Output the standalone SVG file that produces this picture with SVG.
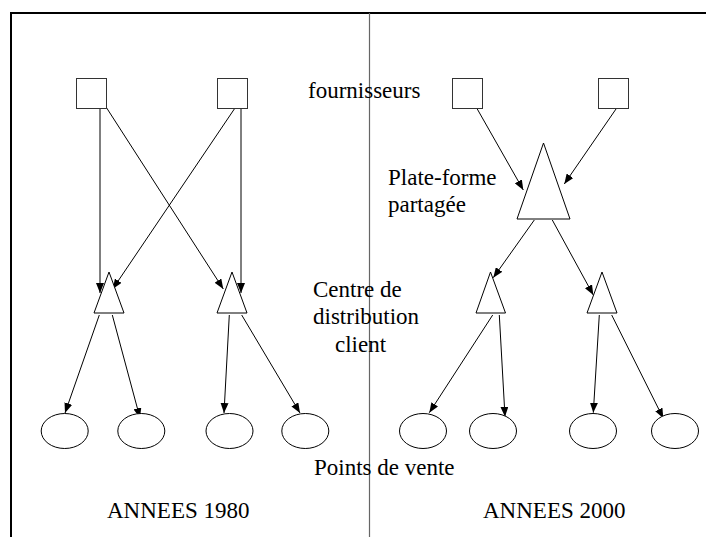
<svg xmlns="http://www.w3.org/2000/svg" width="706" height="537" viewBox="0 0 706 537">
<style>
.t{font-family:"Liberation Serif","Times New Roman",serif;font-size:23px;fill:#000}
.sq{fill:#fff;stroke:#333;stroke-width:1}
.tr{fill:#fff;stroke:#000;stroke-width:1}
.el{fill:#fff;stroke:#000;stroke-width:1}
.c{stroke:#000;stroke-width:1;fill:none;marker-end:url(#ah)}
</style>
<defs>
<marker id="ah" markerUnits="userSpaceOnUse" markerWidth="10" markerHeight="8" refX="10" refY="4" orient="auto">
<path d="M0,0 L10,4 L0,8 z" fill="#000"/>
</marker>
</defs>
<rect width="706" height="537" fill="#fff"/>
<g id="frame">
<polyline points="11,537 11,13 706,13" fill="none" stroke="#000" stroke-width="2"/>
<line x1="369.5" y1="13" x2="369.5" y2="537" stroke="#666" stroke-width="1.2"/>
</g>
<g id="connectors">
<line class="c" x1="100" y1="108" x2="100" y2="293"/>
<line class="c" x1="106.7" y1="108" x2="223.3" y2="289"/>
<line class="c" x1="235" y1="108" x2="112.7" y2="289"/>
<line class="c" x1="241" y1="108" x2="241" y2="293"/>
<line class="c" x1="99.3" y1="315" x2="65" y2="413"/>
<line class="c" x1="112.3" y1="315" x2="140" y2="418"/>
<line class="c" x1="229.3" y1="315" x2="224" y2="413"/>
<line class="c" x1="241.7" y1="315" x2="300" y2="413"/>
<line class="c" x1="476.7" y1="108" x2="523.3" y2="190"/>
<line class="c" x1="616.7" y1="108" x2="564.3" y2="184"/>
<line class="c" x1="534.3" y1="220" x2="493.3" y2="277.7"/>
<line class="c" x1="552.3" y1="220" x2="593.3" y2="295"/>
<line class="c" x1="492.7" y1="315" x2="429.3" y2="412.7"/>
<line class="c" x1="499.3" y1="315" x2="505" y2="416.7"/>
<line class="c" x1="599.3" y1="315" x2="593.3" y2="412.7"/>
<line class="c" x1="611.7" y1="315" x2="663.3" y2="418.3"/>
</g>
<g id="f1"><rect class="sq" x="76.5" y="78.5" width="30" height="30"/></g>
<g id="f2"><rect class="sq" x="217.5" y="78.5" width="30" height="30"/></g>
<g id="f3"><rect class="sq" x="452.5" y="78.5" width="30" height="30"/></g>
<g id="f4"><rect class="sq" x="598.5" y="78.5" width="30" height="30"/></g>
<g id="cd1"><polygon class="tr" points="109,272 124,313 94,313"/></g>
<g id="cd2"><polygon class="tr" points="232,272 247,313 217,313"/></g>
<g id="pf"><polygon class="tr" points="543.5,143 570,219 517,219"/></g>
<g id="cd3"><polygon class="tr" points="490.5,272 505.5,313 476,313"/></g>
<g id="cd4"><polygon class="tr" points="602,272 617,313 587,313"/></g>
<g id="pv1"><ellipse class="el" cx="64.7" cy="431" rx="23.5" ry="17.5"/></g>
<g id="pv2"><ellipse class="el" cx="141.3" cy="431" rx="23.5" ry="17.5"/></g>
<g id="pv3"><ellipse class="el" cx="229.5" cy="431" rx="23.5" ry="17.5"/></g>
<g id="pv4"><ellipse class="el" cx="305.3" cy="431" rx="23.5" ry="17.5"/></g>
<g id="pv5"><ellipse class="el" cx="423" cy="431" rx="23.5" ry="17.5"/></g>
<g id="pv6"><ellipse class="el" cx="493" cy="431" rx="23.5" ry="17.5"/></g>
<g id="pv7"><ellipse class="el" cx="593" cy="431" rx="23.5" ry="17.5"/></g>
<g id="pv8"><ellipse class="el" cx="675" cy="431" rx="23.5" ry="17.5"/></g>
<g id="labels">
<text class="t" x="308" y="98">fournisseurs</text>
<text class="t" x="388" y="185">Plate-forme</text>
<text class="t" x="388" y="212">partagée</text>
<text class="t" x="313" y="297">Centre de</text>
<text class="t" x="313" y="324">distribution</text>
<text class="t" x="335" y="352">client</text>
<text class="t" x="314" y="475">Points de vente</text>
<text class="t" x="107" y="518">ANNEES 1980</text>
<text class="t" x="483" y="518">ANNEES 2000</text>
</g>
</svg>
